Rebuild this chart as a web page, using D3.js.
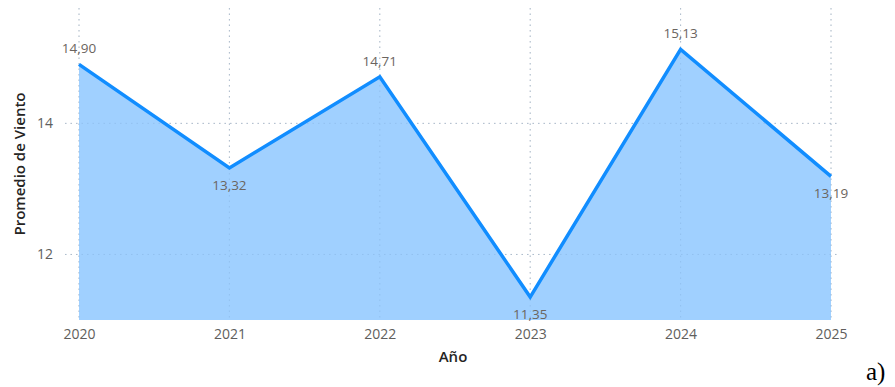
<!DOCTYPE html>
<html>
<head>
<meta charset="utf-8">
<script src="https://cdn.jsdelivr.net/npm/d3@7/dist/d3.min.js"></script>
<style>
  html, body { margin: 0; padding: 0; background: #fff; }
  svg { display: block; }
</style>
</head>
<body>
<svg id="chart" width="895" height="387"></svg>
<script>
// Average wind by year
const years = [2020, 2021, 2022, 2023, 2024, 2025];
const windAvg = [14.90, 13.32, 14.71, 11.35, 15.13, 13.19];
const yTicks = [12, 14];
const labelPos = ["above", "below", "above", "below", "above", "below"];

const svg = d3.select("#chart");
const font = "'Segoe UI', 'Open Sans', 'Noto Sans', sans-serif";

const x = d3.scalePoint().domain(years).range([79, 831]);
const y = d3.scaleLinear().domain([11, 15.76]).range([320, 8]);

const data = years.map((yr, i) => ({ yr, v: windAvg[i], pos: labelPos[i] }));

function drawGrid(g, color) {
  g.selectAll("line.v").data(years).join("line").attr("class", "v")
    .attr("x1", d => x(d)).attr("x2", d => x(d))
    .attr("y1", y.range()[1]).attr("y2", y.range()[0])
    .attr("stroke", color).attr("stroke-width", 1)
    .attr("stroke-dasharray", "1.5,4");
  g.selectAll("line.h").data(yTicks).join("line").attr("class", "h")
    .attr("x1", 65).attr("x2", 838)
    .attr("y1", d => y(d)).attr("y2", d => y(d))
    .attr("stroke", color).attr("stroke-width", 1)
    .attr("stroke-dasharray", "1.5,4");
}

// grid lines
drawGrid(svg.append("g"), "#c8c8c8");

// area
const area = d3.area().x(d => x(d.yr)).y0(y(11)).y1(d => y(d.v));
svg.append("path").datum(data)
  .attr("d", area)
  .attr("fill", "#A0D0FF");

// gridlines faintly visible through the area
drawGrid(svg.append("g").attr("opacity", 0.35), "#7aa6d6");

// line
const line = d3.line().x(d => x(d.yr)).y(d => y(d.v));
svg.append("path").datum(data)
  .attr("d", line)
  .attr("fill", "none")
  .attr("stroke", "#118DFF")
  .attr("stroke-width", 3.5)
  .attr("stroke-linejoin", "miter");

// x axis
const xAxis = svg.append("g").attr("transform", `translate(0,${y(11)})`)
  .call(d3.axisBottom(x).tickSize(0).tickPadding(9));
xAxis.select(".domain").remove();
xAxis.selectAll("text").attr("font-family", font).attr("font-size", 14).attr("fill", "#605E5C");

// y axis
const yAxis = svg.append("g").attr("transform", "translate(53,0)")
  .call(d3.axisLeft(y).tickValues(yTicks).tickFormat(d3.format("d")).tickSize(0).tickPadding(0));
yAxis.select(".domain").remove();
yAxis.selectAll("text").attr("font-family", font).attr("font-size", 14).attr("fill", "#605E5C");

// data labels
const fmt = v => v.toFixed(2).replace(".", ",");
svg.append("g").selectAll("text").data(data).join("text")
  .attr("x", d => x(d.yr))
  .attr("y", d => d.pos === "above" ? y(d.v) - 11 : y(d.v) + 22)
  .attr("text-anchor", "middle")
  .attr("font-family", font).attr("font-size", 13.5)
  .attr("fill", "#6b6560")
  .text(d => fmt(d.v));

// axis titles
svg.append("text")
  .attr("x", 453).attr("y", 362)
  .attr("text-anchor", "middle")
  .attr("font-family", font).attr("font-size", 15).attr("font-weight", 600)
  .attr("fill", "#252423")
  .text("Año");
svg.append("text")
  .attr("transform", "translate(25,164) rotate(-90)")
  .attr("text-anchor", "middle")
  .attr("font-family", font).attr("font-size", 15).attr("font-weight", 600)
  .attr("fill", "#252423")
  .text("Promedio de Viento");

svg.append("text")
  .attr("x", 866).attr("y", 380)
  .attr("font-family", "'Liberation Serif', 'Times New Roman', serif")
  .attr("font-size", 25)
  .attr("fill", "#000")
  .text("a)");
</script>
</body>
</html>
